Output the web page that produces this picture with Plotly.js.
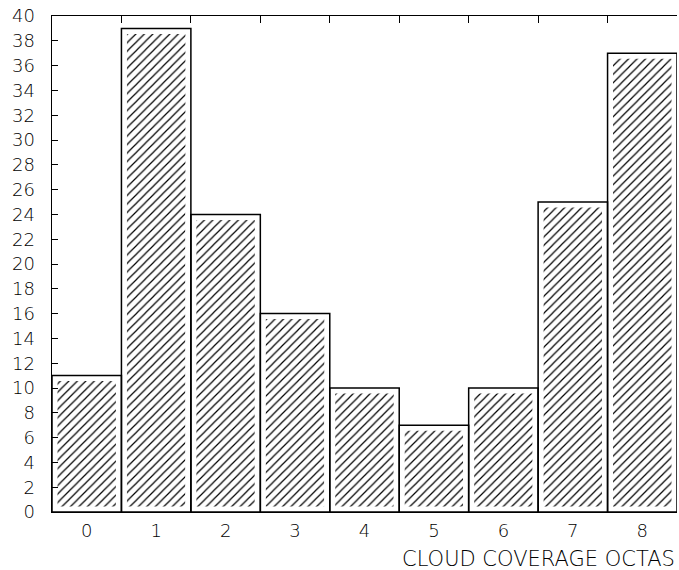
<!DOCTYPE html>
<html>
<head>
<meta charset="utf-8">
<script src="https://cdn.plot.ly/plotly-3.0.1.min.js"></script>
<style>
  html, body { margin: 0; padding: 0; background: #fff; }
  #chart { width: 679px; height: 570px; }
</style>
</head>
<body>
<div id="chart"></div>
<script>
// Cloud coverage (octas) categories and counts
const octas = ['0', '1', '2', '3', '4', '5', '6', '7', '8'];
const counts = [11, 39, 24, 16, 10, 7, 10, 25, 37];
const yTickValues = [0, 2, 4, 6, 8, 10, 12, 14, 16, 18, 20, 22, 24, 26, 28, 30, 32, 34, 36, 38, 40];
const xTitle = 'CLOUD COVERAGE OCTAS';

const FONT = 'DejaVu Sans';

// Hatched fill, with a white stroke that insets the hatching from the bar edge
const hatchTrace = {
  type: 'bar',
  x: octas,
  y: counts,
  width: 1,
  marker: {
    color: '#ffffff',
    line: { color: '#ffffff', width: 11 },
    pattern: { shape: '/', size: 6, solidity: 0.2, fgcolor: '#000000', bgcolor: '#ffffff' }
  },
  hoverinfo: 'skip',
  showlegend: false
};

// Black outline of every bar
const outlineTrace = {
  type: 'bar',
  x: octas,
  y: counts,
  width: 1,
  marker: {
    color: 'rgba(0,0,0,0)',
    line: { color: '#000000', width: 1.5 }
  },
  hoverinfo: 'skip',
  showlegend: false
};

const layout = {
  width: 679,
  height: 570,
  margin: { l: 52, r: 2, t: 16, b: 58, pad: 0 },
  paper_bgcolor: '#ffffff',
  plot_bgcolor: '#ffffff',
  barmode: 'overlay',
  bargap: 0,
  showlegend: false,
  hovermode: false,
  font: { family: FONT, color: '#000000', size: 18, weight: 300 },
  xaxis: {
    type: 'category',
    categoryorder: 'array',
    categoryarray: octas,
    range: [-0.5, 8.5],
    tickson: 'boundaries',
    ticks: 'inside',
    ticklen: 7,
    tickwidth: 1,
    tickcolor: '#000000',
    showline: true,
    linecolor: '#000000',
    linewidth: 1,
    mirror: 'ticks',
    showgrid: false,
    zeroline: false,
    tickfont: { family: FONT, size: 18, color: '#000000', weight: 300 },
    ticklabelstandoff: 2
  },
  yaxis: {
    range: [0, 40],
    tickmode: 'array',
    tickvals: yTickValues,
    ticktext: yTickValues.map(String),
    ticks: 'inside',
    ticklen: 6,
    tickwidth: 1,
    tickcolor: '#000000',
    showline: true,
    linecolor: '#000000',
    linewidth: 1.5,
    mirror: false,
    showgrid: false,
    zeroline: false,
    tickfont: { family: FONT, size: 18, color: '#000000', weight: 300 },
    ticklabelstandoff: 12
  },
  annotations: [{
    text: xTitle,
    xref: 'paper', yref: 'paper',
    x: 1, y: -0.0948,
    xanchor: 'right', yanchor: 'middle',
    showarrow: false,
    font: { family: FONT, size: 21, color: '#000000', weight: 300 }
  }]
};

Plotly.newPlot('chart', [hatchTrace, outlineTrace], layout, { displayModeBar: false, staticPlot: true });
</script>
</body>
</html>
